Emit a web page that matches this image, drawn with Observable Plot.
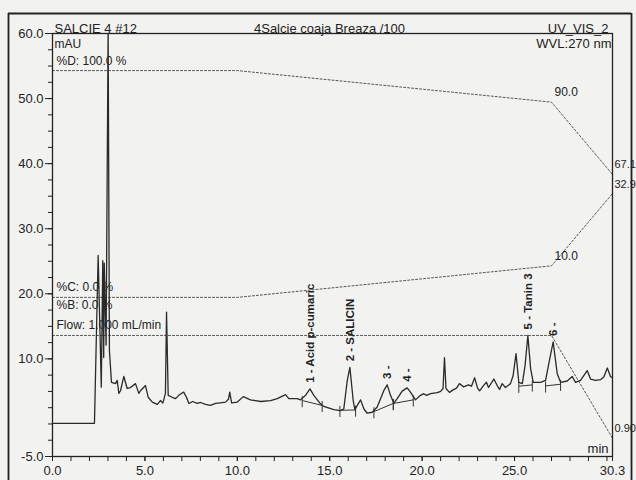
<!DOCTYPE html>
<html><head><meta charset="utf-8">
<script src="https://cdn.jsdelivr.net/npm/d3@7"></script>
<script src="https://cdn.jsdelivr.net/npm/@observablehq/plot@0.6"></script>
<style>
body{margin:0;background:#f2f2f0;}
#chart svg{font-family:'Liberation Sans',Arial,sans-serif;}
</style></head><body>
<div id="chart"></div>
<script>
// ---- chromatogram trace (retention time, min ; absorbance, mAU) ----
const time = [0,2.27,2.47,2.64,2.72,2.77,2.80,2.90,3.01,3.08,3.19,3.41,3.50,3.59,3.68,3.86,4.04,4.22,4.49,4.67,4.76,5.03,5.18,5.40,5.67,5.84,5.97,6.11,6.17,6.26,6.48,6.66,6.83,7.10,7.25,7.38,7.58,7.83,8.01,8.28,8.55,8.82,9.09,9.36,9.52,9.59,9.69,9.99,10.32,10.71,11.26,11.80,12.16,12.61,12.79,13.24,13.42,13.69,13.93,14.14,14.50,14.68,15.22,15.58,15.76,15.95,16.09,16.27,16.36,16.49,16.67,16.85,17.03,17.30,17.57,17.93,18.11,18.29,18.47,18.65,18.92,19.19,19.37,19.64,19.91,20.09,20.24,20.45,20.82,21.00,21.13,21.21,21.29,21.48,21.65,21.86,22.02,22.24,22.51,22.67,22.84,23.00,23.11,23.32,23.48,23.59,23.88,24.06,24.19,24.33,24.51,24.78,24.92,25.08,25.23,25.42,25.57,25.72,25.87,26.01,26.41,26.68,26.89,27.09,27.31,27.49,27.85,28.12,28.30,28.57,28.93,29.11,29.38,29.65,29.83,30.02,30.19,30.30];
const signal = [0.1,0.1,25.9,5.65,25.1,10.2,24.7,12.1,61,11.3,6.4,6.2,6.7,4.7,5.1,7.3,5.45,5.6,6.2,4.7,5.1,5.9,4.1,3.35,3.0,3.6,3.2,4.7,17.2,4.4,4.1,3.9,4.4,4.9,4.1,3.15,3.45,3.15,3.3,3.0,2.85,3.15,3.25,3.35,3.8,4.9,3.25,3.35,4.2,3.7,3.45,3.6,3.9,4.5,3.9,3.9,3.7,4.4,5.4,4.4,3.1,2.7,2.2,2.05,2.3,6.7,8.7,3.6,2.2,2.85,3.7,2.3,1.65,1.8,2.6,5.15,6.0,4.4,3.2,3.9,5.05,5.55,4.9,3.7,4.4,4.65,4.4,4.65,4.8,5.0,5.45,10.2,5.45,4.85,5.2,5.5,6.2,5.7,6.0,5.8,7.1,5.5,5.1,5.9,6.4,5.6,6.9,5.9,5.3,6.2,5.6,6.2,7.4,10.8,6.4,6.2,9.0,13.6,8.5,6.4,6.4,6.7,9.8,12.6,7.7,6.4,6.6,7.3,6.4,6.7,8.2,6.9,6.7,6.8,7.2,8.6,7.3,7.1];

// ---- identified peaks ----
const peakNames = ["1 - Acid p-cumaric","2 - SALICIN","3 -","4 -","5 - Tanin 3","6 -"];
const peakTimes = [13.93,16.09,18.11,19.19,25.72,27.09];
const peakHeights = [5.4,8.7,6.0,5.55,13.6,12.6];

// ---- integration baselines (start/end time and level) ----
const intStart = [13.51,15.55,17.39,18.44,25.23,26.68];
const intStartV = [3.6,2.1,1.9,3.15,5.8,5.85];
const intEnd = [14.59,16.40,18.44,19.52,25.96,27.49];
const intEndV = [2.85,2.15,3.15,3.7,6.0,6.1];

// ---- gradient program ----
const gradTime = [0,10,27.0,30.3];
const pctD = [100,100,90,67.1];
const pctC = [0,0,10,32.9];
const pctB = [0];
const flowTime = [0,27.0,30.3];
const flowRate = [1.0,1.0,0.90];

// ---- axes ----
const yTicks = [60,50,40,30,20,10,-5];
const yMinor = d3.range(-5,60.01,2.5);
const xTicks = [0,5,10,15,20,25,30.3];
const xMinor = d3.range(0,31,1);

// ---- header text ----
const sampleName = "SALCIE 4 #12";
const title = "4Salcie coaja Breaza /100";
const channel = "UV_VIS_2";
const wavelength = "WVL:270 nm";
const yUnit = "mAU";
const xUnit = "min";

// display of gradient traces on the mAU axis (offset of 0 %, mAU per %)
const pctK = 0.485;
const off = {D: 5.8, C: 19.45, B: 16.75};
const flowBase = 13.6, flowK = 158;

const trace = time.map((t,i)=>({t, v: signal[i]}));
const peaks = peakNames.map((n,i)=>({n, t: peakTimes[i], v: peakHeights[i]}));
const ints = intStart.map((s,i)=>({t1:s, v1:intStartV[i], t2:intEnd[i], v2:intEndV[i]}));
const bounds = ints.flatMap(d=>[{t:d.t1,v:d.v1},{t:d.t2,v:d.v2}]);
const grad = gradTime.map((t,i)=>({t, D:pctD[i], C:pctC[i]}));
const flow = flowTime.map((t,i)=>({t, f:flowRate[i]}));
const yD = d=>off.D + pctK*d.D, yC = d=>off.C + pctK*d.C, yF = d=>flowBase + flowK*(d.f-1);

const ink = "#222";
const paper = "#f2f2f0";
const font = "'Liberation Sans', Arial, sans-serif";
const dotted = {stroke:"#555", strokeWidth:1, strokeDasharray:"2,2"};
const lab = {fontSize:12, fill:ink};
const edge = {fontSize:11, fill:ink};
const mid = grad.slice(2,3), end = grad.slice(3);

// printout's outer border, just outside the plotted window (decoration)
const xSpan = 30.3, ySpan = 65;
const pageL = -xSpan * 44/560, pageR = xSpan * 579/560, pageT = 60 + ySpan * 20/423, pageB = -5 - ySpan * 40/423;

const chart = Plot.plot({
  width:636, height:480,
  marginLeft:52, marginRight:24, marginTop:33, marginBottom:24,
  style:{background:paper, fontFamily:font, color:ink},
  x:{domain:[0,30.3]},
  y:{domain:[-5,60]},
  marks:[
    Plot.ruleX([pageL, pageR], {y1:pageB, y2:pageT, stroke:ink, strokeWidth:1.8}),
    Plot.ruleY([pageT], {x1:pageL, x2:pageR, stroke:ink, strokeWidth:1.8}),
    // gradient & flow traces
    Plot.line(grad, {x:"t", y:yD, ...dotted}),
    Plot.line(grad, {x:"t", y:yC, ...dotted}),
    Plot.line(flow, {x:"t", y:yF, ...dotted}),
    Plot.text([grad[0]], {x:"t", y:yD, text:d=>`%D: ${d.D.toFixed(1)} %`, textAnchor:"start", lineAnchor:"bottom", dx:4, dy:-6, ...lab}),
    Plot.text([grad[0]], {x:"t", y:yC, text:d=>`%C: ${d.C.toFixed(1)} %`, textAnchor:"start", lineAnchor:"bottom", dx:4, dy:-6, ...lab}),
    Plot.text(pctB, {x:0, y:d=>off.B + pctK*d, text:d=>`%B: ${d.toFixed(1)} %`, textAnchor:"start", lineAnchor:"bottom", dx:4, dy:-6, ...lab}),
    Plot.text([flow[0]], {x:"t", y:yF, text:d=>`Flow: ${d.f.toFixed(3)} mL/min`, textAnchor:"start", lineAnchor:"bottom", dx:4, dy:-6, ...lab}),
    Plot.text(mid, {x:"t", y:yD, text:d=>d.D.toFixed(1), textAnchor:"start", lineAnchor:"bottom", dx:3, dy:-6, ...lab}),
    Plot.text(mid, {x:"t", y:yC, text:d=>d.C.toFixed(1), textAnchor:"start", lineAnchor:"bottom", dx:3, dy:-6, ...lab}),
    Plot.text(end, {x:"t", y:yD, text:d=>d.D.toFixed(1), textAnchor:"start", lineAnchor:"bottom", dx:2, dy:-6, ...edge}),
    Plot.text(end, {x:"t", y:yC, text:d=>d.C.toFixed(1), textAnchor:"start", lineAnchor:"bottom", dx:2, dy:-6, ...edge}),
    Plot.text(flow.slice(-1), {x:"t", y:yF, text:d=>d.f.toFixed(2), textAnchor:"start", lineAnchor:"bottom", dx:2, dy:-6, ...edge}),
    // integration baselines
    Plot.link(ints, {x1:"t1", y1:"v1", x2:"t2", y2:"v2", stroke:"#333", strokeWidth:1}),
    Plot.ruleX(bounds, {x:"t", y1:d=>d.v+0.6, y2:d=>d.v-1.1, stroke:"#333", strokeWidth:1}),
    // signal
    Plot.line(trace, {x:"t", y:"v", stroke:"#2a2a2a", strokeWidth:1.3, clip:true}),
    // peak labels
    Plot.text(peaks, {x:"t", y:"v", text:"n", rotate:-90, textAnchor:"start", lineAnchor:"middle", dy:-6, fontSize:11.5, fontWeight:"bold", fill:ink}),
    // axes
    Plot.axisY(yMinor, {tickSize:4, fill:"none", label:null, stroke:ink}),
    Plot.axisY(yTicks, {tickSize:7, tickPadding:2, tickFormat:d=>d.toFixed(1), fontSize:13, label:null, stroke:ink, fill:ink}),
    Plot.axisX(xMinor, {tickSize:5, fill:"none", label:null, stroke:ink}),
    Plot.axisX(xTicks, {tickSize:5, tickPadding:4, tickFormat:d=>d.toFixed(1), fontSize:13, label:null, stroke:ink, fill:ink}),
    Plot.frame({stroke:ink, strokeWidth:1.3}),
    // header / unit text
    Plot.text([sampleName], {frameAnchor:"top-left", text:d=>d, textAnchor:"start", lineAnchor:"bottom", dx:2, dy:-1, fontSize:13, fill:ink}),
    Plot.text([title], {frameAnchor:"top", text:d=>d, textAnchor:"middle", lineAnchor:"bottom", dx:-3, dy:-1, fontSize:13, fill:ink}),
    Plot.text([channel], {frameAnchor:"top-right", text:d=>d, textAnchor:"end", lineAnchor:"bottom", dx:-4, dy:-1, fontSize:13, fill:ink}),
    Plot.text([wavelength], {frameAnchor:"top-right", text:d=>d, textAnchor:"end", lineAnchor:"bottom", dx:-1, dy:14, fontSize:13, fill:ink}),
    Plot.text([yUnit], {frameAnchor:"top-left", text:d=>d, textAnchor:"start", lineAnchor:"bottom", dx:2, dy:14, fontSize:12, fill:ink}),
    Plot.text([xUnit], {frameAnchor:"bottom-right", text:d=>d, textAnchor:"end", lineAnchor:"bottom", dx:-4, dy:-4, fontSize:13, fill:ink})
  ]
});
document.getElementById("chart").appendChild(chart);
</script>
</body></html>
